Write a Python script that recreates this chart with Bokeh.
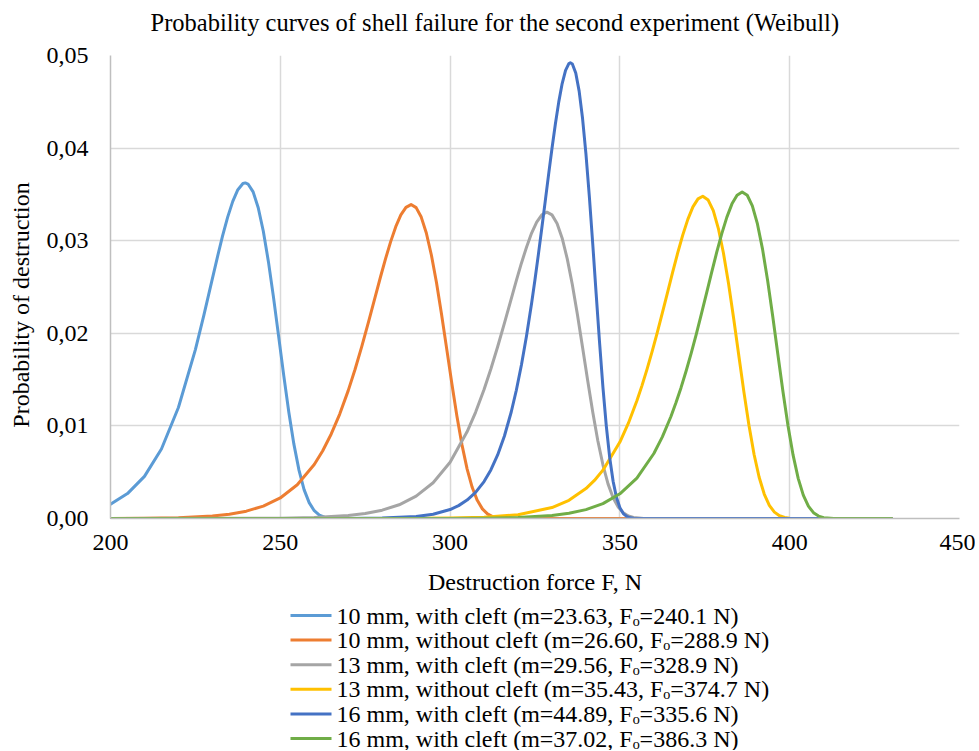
from bokeh.plotting import figure
from bokeh.layouts import column
from bokeh.models import FixedTicker, CustomJSTickFormatter, Range1d
from bokeh.core.properties import value
from bokeh.embed import file_html
from bokeh.resources import INLINE

TITLE = "Probability curves of shell failure for the second experiment (Weibull)"
X_LABEL = "Destruction force F, N"
Y_LABEL = "Probability of destruction"
Y_TICKS = [0.0, 0.01, 0.02, 0.03, 0.04, 0.05]
X_TICKS = [200, 250, 300, 350, 400, 450]

names = [
    "10 mm, with cleft (m=23.63, Fₒ=240.1 N)",
    "10 mm, without cleft (m=26.60, Fₒ=288.9 N)",
    "13 mm, with cleft (m=29.56, Fₒ=328.9 N)",
    "13 mm, without cleft (m=35.43, Fₒ=374.7 N)",
    "16 mm, with cleft (m=44.89, Fₒ=335.6 N)",
    "16 mm, with cleft (m=37.02, Fₒ=386.3 N)",
]
colors = ["#5B9BD5", "#ED7D31", "#A5A5A5", "#FFC000", "#4472C4", "#70AD47"]

x1 = [200, 205, 210, 215, 220, 225, 227.5, 230, 231.5, 233, 234.5, 236, 237.5, 239, 239.7, 240.5, 242, 243.5,
      245, 246.5, 248, 249.5, 251, 252.5, 254, 255.5, 257, 258.5, 260, 261.5, 263, 266, 270, 430]
y1 = [0.00155, 0.00269, 0.00455, 0.00751, 0.01199, 0.01824, 0.02197, 0.02590, 0.02826, 0.03051, 0.03255, 0.03425,
      0.03551, 0.03617, 0.03624, 0.03612, 0.03527, 0.03356, 0.03102, 0.02774, 0.02388, 0.01970, 0.01548, 0.01150,
      0.00803, 0.00522, 0.00312, 0.00171, 0.00084, 0.00037, 0.00014, 0.00001, 0, 0]

x2 = [200, 210, 220, 230, 235, 240, 245, 250, 255, 260, 262.5, 265, 267.5, 270, 272, 274, 276, 278, 279.5, 281,
      282.5, 284, 285.5, 287, 288.5, 290, 291.5, 293, 294.5, 296, 297.5, 299, 300.5, 302, 303.5, 305, 306.5, 308,
      309.5, 311, 312.5, 314, 317, 320, 430]
y2 = [0.0000075, 0.000026, 0.000086, 0.00027, 0.00046, 0.00079, 0.00134, 0.00222, 0.00364, 0.00583, 0.00732,
      0.00913, 0.01128, 0.01381, 0.01609, 0.01859, 0.02125, 0.02401, 0.02608, 0.02806, 0.02990, 0.03151, 0.03278,
      0.03360, 0.03390, 0.03357, 0.03255, 0.03083, 0.02843, 0.02545, 0.02201, 0.01832, 0.01461, 0.01108, 0.00795,
      0.00536, 0.00337, 0.00196, 0.00104, 0.00050, 0.00021, 0.00008, 0.00001, 0, 0]

x3 = [200, 250, 260, 270, 275, 280, 285, 290, 295, 300, 305, 307.5, 310, 312, 314, 316, 318, 319.5, 321, 322.5,
      324, 325.5, 327, 328.5, 330, 331.5, 333, 334.5, 336, 337.5, 339, 340.5, 342, 343.5, 345, 346.5, 348, 349.5,
      351, 352.5, 354, 357, 360, 430]
y3 = [0, 0.00004, 0.00011, 0.00032, 0.00054, 0.00090, 0.00148, 0.00241, 0.00386, 0.00608, 0.00936, 0.01147,
      0.01393, 0.01614, 0.01855, 0.02110, 0.02372, 0.02568, 0.02757, 0.02930, 0.03082, 0.03201, 0.03280, 0.03308,
      0.03279, 0.03186, 0.03027, 0.02804, 0.02524, 0.02200, 0.01850, 0.01492, 0.01150, 0.00840, 0.00580, 0.00374,
      0.00224, 0.00123, 0.00062, 0.00028, 0.00011, 0.00001, 0, 0]

x4 = [200, 280, 300, 310, 320, 330, 335, 340, 342.5, 345, 350, 352.5, 355, 356.5, 358, 359.5, 361, 362.5, 364,
      365.5, 367, 368.5, 370, 371.5, 373, 374.4, 376, 377.5, 379, 380.5, 382, 383.5, 385, 386.5, 388, 389.5, 391,
      392.5, 394, 395.5, 397, 398.5, 400, 403, 406, 430]
y4 = [0, 0.000004, 0.000045, 0.00014, 0.00041, 0.00118, 0.00196, 0.00323, 0.00411, 0.00522, 0.00826, 0.01029,
      0.01271, 0.01435, 0.01613, 0.01804, 0.02008, 0.02220, 0.02437, 0.02654, 0.02865, 0.03060, 0.03230, 0.03365,
      0.03452, 0.03480, 0.03439, 0.03324, 0.03131, 0.02864, 0.02535, 0.02160, 0.01763, 0.01370, 0.01007, 0.00694,
      0.00446, 0.00264, 0.00142, 0.00069, 0.00030, 0.00011, 0.00004, 0.000002, 0, 0]

x5 = [200, 270, 280, 290, 295, 300, 302.5, 305, 307.5, 310, 312, 314, 316, 318, 319.5, 321, 322.5, 324, 325, 326,
      327, 328, 329, 330, 331, 332, 333, 334, 335, 335.4, 336, 337, 338, 339, 340, 341, 342, 343, 344, 345, 346,
      347, 348, 349, 350, 351, 352, 353, 354, 356, 358, 430]
y5 = [0, 0.00001, 0.000047, 0.00022, 0.00046, 0.00097, 0.00139, 0.00199, 0.00282, 0.00399, 0.00525, 0.00686,
      0.00891, 0.01150, 0.01385, 0.01658, 0.01971, 0.02324, 0.02581, 0.02852, 0.03134, 0.03422, 0.03713, 0.03995,
      0.04261, 0.04499, 0.04697, 0.04839, 0.04914, 0.04922, 0.04908, 0.04810, 0.04615, 0.04322, 0.03937, 0.03479,
      0.02967, 0.02432, 0.01906, 0.01419, 0.00997, 0.00657, 0.00402, 0.00226, 0.00116, 0.00053, 0.00022,
      0.000078, 0.00002, 0.000001, 0, 0]

x6 = [200, 290, 300, 310, 320, 330, 335, 340, 345, 350, 355, 360, 362.5, 365, 366.5, 368, 369.5, 371, 372.5, 374,
      375.5, 377, 378.5, 380, 381.5, 383, 384.5, 386, 387.5, 389, 390.5, 392, 393.5, 395, 396.5, 398, 399.5, 401,
      402.5, 404, 405.5, 407, 408.5, 410, 413, 416, 430]
y6 = [0, 0.000003, 0.00001, 0.000035, 0.00011, 0.00033, 0.00056, 0.00096, 0.00161, 0.00267, 0.00437, 0.00702,
      0.00882, 0.01099, 0.01249, 0.01413, 0.01593, 0.01786, 0.01992, 0.02209, 0.02432, 0.02655, 0.02873, 0.03076,
      0.03255, 0.03398, 0.03492, 0.03527, 0.03491, 0.03376, 0.03181, 0.02909, 0.02571, 0.02185, 0.01777, 0.01374,
      0.01002, 0.00684, 0.00434, 0.00252, 0.00133, 0.00063, 0.00026, 0.00009, 0.000007, 0, 0]

xs = [x1, x2, x3, x4, x5, x6]
ys = [y1, y2, y3, y4, y5, y6]

FONT = "Liberation Serif"
W = 975
LEFT, RIGHT = 110, 16

# title strip above the chart (pixel coordinates)
T_H = 42
t = figure(width=W, height=T_H, output_backend="svg", toolbar_location=None,
           x_range=Range1d(LEFT, W - RIGHT), y_range=Range1d(T_H, 0),
           x_axis_type=None, y_axis_type=None,
           min_border_left=LEFT, min_border_right=RIGHT, min_border_top=0, min_border_bottom=0)
t.outline_line_color = None
t.text(x=[150], y=[22], text=[TITLE], text_baseline="middle", text_align="left",
       text_font=value(FONT), text_font_size="24.5px", text_color="#000000")

p = figure(width=W, height=558, output_backend="svg", toolbar_location=None,
           x_range=Range1d(200, 450), y_range=Range1d(0, 0.05),
           min_border_left=LEFT, min_border_right=RIGHT, min_border_top=13, min_border_bottom=82)
p.outline_line_color = None

p.xaxis.ticker = FixedTicker(ticks=X_TICKS)
p.yaxis.ticker = FixedTicker(ticks=Y_TICKS)
p.yaxis.formatter = CustomJSTickFormatter(code="return tick.toFixed(2).replace('.', ',');")

for ax in (p.xaxis[0], p.yaxis[0]):
    ax.major_tick_line_color = None
    ax.minor_tick_line_color = None
    ax.axis_line_color = "#BFBFBF"
    ax.axis_line_width = 1.5
    ax.major_label_text_font = FONT
    ax.major_label_text_font_size = "24px"
    ax.major_label_text_color = "#000000"
    ax.axis_label_text_font = FONT
    ax.axis_label_text_font_size = "24px"
    ax.axis_label_text_font_style = "normal"
    ax.axis_label_text_color = "#000000"

p.xaxis.axis_label = X_LABEL
p.yaxis.axis_label = Y_LABEL + "\u00a0" * 6
p.xaxis.major_label_standoff = 10
p.xaxis.axis_label_standoff = 16
p.yaxis.major_label_standoff = 16
p.yaxis.axis_label_standoff = 10

p.xgrid.grid_line_color = "#D9D9D9"
p.ygrid.grid_line_color = "#D9D9D9"
p.xgrid.grid_line_width = 1.5
p.ygrid.grid_line_width = 1.5

for xv, yv, c in zip(xs, ys, colors):
    p.line(xv, yv, line_color=c, line_width=3, line_join="round", line_cap="round")

# legend strip below the chart: x in pixels, one row per series
ROW_H = 24.6
FIRST_ROW = 15
Q_H = 150
q = figure(width=W, height=Q_H, output_backend="svg", toolbar_location=None,
           x_range=Range1d(LEFT, W - RIGHT),
           y_range=Range1d((Q_H - FIRST_ROW) / ROW_H, -FIRST_ROW / ROW_H),
           x_axis_type=None, y_axis_type=None,
           min_border_left=LEFT, min_border_right=RIGHT, min_border_top=0, min_border_bottom=0)
q.outline_line_color = None
rows = list(range(len(names)))
q.segment(x0=[290] * len(rows), y0=rows, x1=[331] * len(rows), y1=rows,
          line_color=colors, line_width=3)
q.text(x=[336] * len(rows), y=rows, text=names, text_baseline="middle", text_align="left",
       text_font=value(FONT), text_font_size="24px", text_color="#000000")

layout = column(t, p, q, spacing=0)
open("out.html", "w").write(file_html(layout, INLINE))
